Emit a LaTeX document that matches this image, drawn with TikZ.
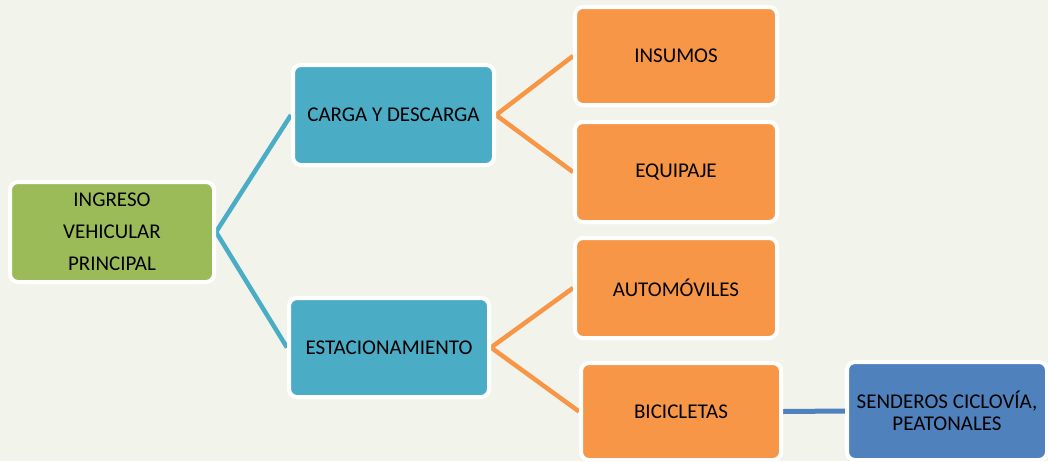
\documentclass[tikz,border=0pt]{standalone}
\usepackage{fontspec}
\setmainfont{Carlito}
\usetikzlibrary{backgrounds}
\pgfdeclarelayer{edges}
\pgfsetlayers{background,edges,main}
\definecolor{bgc}{HTML}{F2F4EC}
\definecolor{greenbox}{HTML}{9BBB59}
\definecolor{tealbox}{HTML}{4BACC6}
\definecolor{orangebox}{HTML}{F79646}
\definecolor{bluebox}{HTML}{4F81BD}
\tikzset{
  box/.style={rectangle, rounded corners=8pt, draw=white, line width=4pt,
    minimum width=202pt, minimum height=99pt, inner sep=2pt, align=center,
    text=black, font=\fontsize{21}{32}\selectfont},
  gbox/.style={box, fill=greenbox},
  tbox/.style={box, fill=tealbox},
  obox/.style={box, fill=orangebox},
  bbox/.style={box, fill=bluebox},
  tline/.style={draw=tealbox, line width=4.5pt},
  oline/.style={draw=orangebox, line width=4.5pt},
  bline/.style={draw=bluebox, line width=5pt},
}
\begin{document}
\begin{tikzpicture}[x=1pt,y=-1pt]
\begin{pgfonlayer}{background}
\fill[bgc] (0,0) rectangle (1048,461);
\end{pgfonlayer}
\useasboundingbox (0,0) rectangle (1048,461);
\node[gbox, minimum width=204pt, minimum height=100pt] (ing) at (112,232) {INGRESO\\VEHICULAR\\PRINCIPAL};
\node[tbox, minimum width=201pt, minimum height=100pt] (carga) at (393.5,115) {CARGA Y DESCARGA};
\node[tbox, minimum width=200pt] (estac) at (389,347.5) {ESTACIONAMIENTO};
\node[obox, minimum height=98pt] (ins) at (676,56) {INSUMOS};
\node[obox, minimum height=100pt] (equ) at (676,172) {EQUIPAJE};
\node[obox, minimum height=100pt] (auto) at (676,288) {AUTOMÓVILES};
\node[obox, minimum width=200pt, minimum height=97pt] (bici) at (681,411.5) {BICICLETAS};
\node[bbox, minimum width=200pt, minimum height=98pt, font=\fontsize{21}{22}\selectfont] (send) at (947,411) {SENDEROS CICLOVÍA,\\PEATONALES};
\begin{pgfonlayer}{edges}
\draw[tline] (ing.east) -- (carga.west);
\draw[tline] (ing.east) -- (estac.west);
\draw[oline] (carga.east) -- (ins.west);
\draw[oline] (carga.east) -- (equ.west);
\draw[oline] (estac.east) -- (auto.west);
\draw[oline] (estac.east) -- (bici.west);
\draw[bline] (bici.east) -- (send.west);
\end{pgfonlayer}
\end{tikzpicture}
\end{document}
